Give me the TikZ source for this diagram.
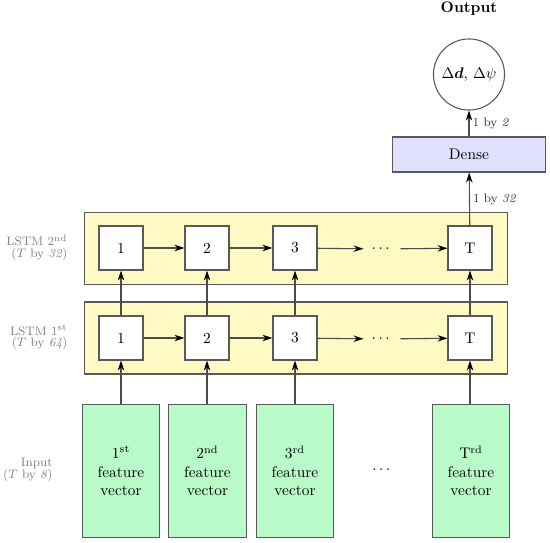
\documentclass[tikz,border=0pt]{standalone}
\usepackage{amsmath,bm}
\usetikzlibrary{arrows.meta}
\definecolor{lstmyellow}{RGB}{255,249,196}
\definecolor{featgreen}{RGB}{184,250,200}
\definecolor{densecol}{RGB}{224,224,255}
\begin{document}
\begin{tikzpicture}[x=0.65pt,y=-0.65pt,
  line width=0.7pt,
  box/.style={draw=black!65, fill=white, minimum width=28.6pt, minimum height=28.6pt, inner sep=0pt},
  layer/.style={draw=black!65, fill=lstmyellow, minimum width=274.6pt, minimum height=46.8pt, inner sep=0pt},
  feat/.style={draw=black!65, fill=featgreen, minimum width=50.4pt, minimum height=86.8pt, inner sep=0pt, align=center},
  conn/.style={draw=black!70, -{Stealth[length=6.5pt,width=4.2pt,color=black]}},
  side/.style={text=black!50, align=right, anchor=east, inner sep=0pt, font=\fontsize{8}{7.6}\selectfont},
  dim/.style={text=black!80, font=\footnotesize, right, midway, inner sep=2pt},
  dotsn/.style={inner sep=5pt}
]
\useasboundingbox (0,0) rectangle (550,542);

% title and output
\node[font=\bfseries] (title) at (469,9) {Output};
\node[circle, draw=black!65, minimum size=46.2pt, inner sep=0pt] (out) at (469,74.5) {$\Delta\boldsymbol{d}$, $\Delta\psi$};
\node[draw=black!65, fill=densecol, minimum width=99.5pt, minimum height=22.75pt, inner sep=0pt] (dense) at (469,154.5) {Dense};

% LSTM layers
\node[layer] (L2) at (295.8,248.3) {};
\node[layer] (L1) at (295.8,338) {};

\node[box] (a1) at (121,248) {1};
\node[box] (a2) at (207,248) {2};
\node[box] (a3) at (295,248) {3};
\node[box] (aT) at (470,248) {T};
\node[dotsn] (d2) at (382,249) {$\cdots$};

\node[box] (b1) at (121,338) {1};
\node[box] (b2) at (207,338) {2};
\node[box] (b3) at (295,338) {3};
\node[box] (bT) at (470,338) {T};
\node[dotsn] (d1) at (382,339) {$\cdots$};

% inputs
\node[feat] (f1) at (121,471) {1\textsuperscript{st}\\feature\\vector};
\node[feat] (f2) at (207.5,471) {2\textsuperscript{nd}\\feature\\vector};
\node[feat] (f3) at (295,471) {3\textsuperscript{rd}\\feature\\vector};
\node[feat] (fT) at (471,471) {T\textsuperscript{rd}\\feature\\vector};
\node[dotsn] (dIn) at (382.6,470) {$\cdots$};

% side labels
\node[side] (l2lab) at (68,248) {LSTM 2\textsuperscript{nd}\\($T$ by \textit{32})};
\node[side] (l1lab) at (68,337.5) {LSTM 1\textsuperscript{st}\\($T$ by \textit{64})};
\node[side] (inlab) at (53,470) {Input\\($T$ by \textit{8})};

% horizontal connectors
\draw[conn] (a1) -- (a2);
\draw[conn] (a2) -- (a3);
\draw[conn] (a3) -- (d2);
\draw[conn] (d2) -- (aT);
\draw[conn] (b1) -- (b2);
\draw[conn] (b2) -- (b3);
\draw[conn] (b3) -- (d1);
\draw[conn] (d1) -- (bT);

% vertical connectors
\draw[conn] (f1) -- (b1);
\draw[conn] (f2.north -| b2) -- (b2);
\draw[conn] (f3) -- (b3);
\draw[conn] (fT.north -| bT) -- (bT);
\draw[conn] (b1) -- (a1);
\draw[conn] (b2) -- (a2);
\draw[conn] (b3) -- (a3);
\draw[conn] (bT) -- (aT);
\draw[conn] (aT) -- (dense) node[dim] {1 by \textit{32}};
\draw[conn] (dense) -- (out) node[dim] {1 by \textit{2}};
\end{tikzpicture}
\end{document}
